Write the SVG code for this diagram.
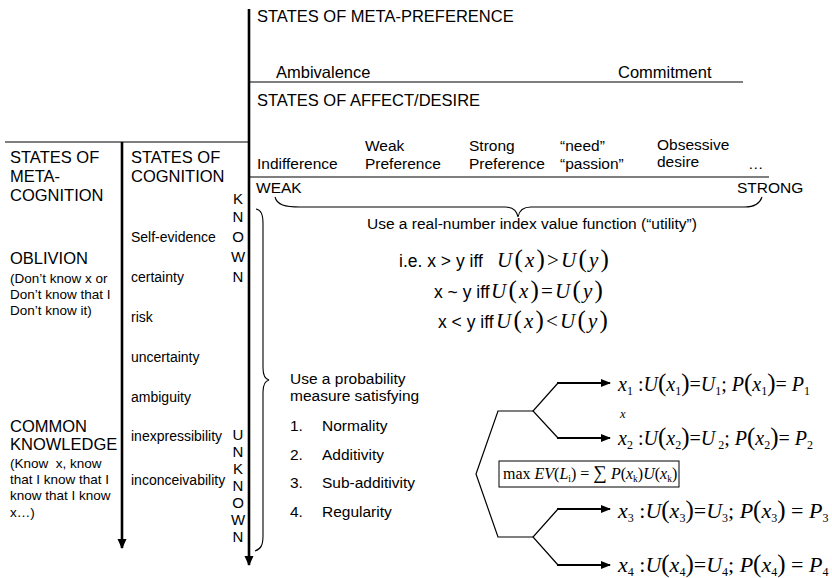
<svg xmlns="http://www.w3.org/2000/svg" width="832" height="578" viewBox="0 0 832 578">
  <style>
    text { font-family: "Liberation Sans", Arial, sans-serif; fill: #000; }
    .h { font-size: 16.5px; }
    .lbl { font-size: 15.5px; }
    .sm { font-size: 13.5px; }
    .cog { font-size: 14px; }
    .let { font-size: 15px; text-anchor: middle; }
    .big { font-size: 17.5px; }
    .serif { font-family: "Liberation Serif", "Times New Roman", serif; }
    .uf { font-size: 21px; letter-spacing: 2.2px; }
    .eq { font-size: 20px; }
    .eqb { font-size: 22px; }
    .ev { font-size: 16px; }
    .evs { font-size: 9.5px; }
    .tiny { font-size: 12.5px; }
    .i { font-style: italic; }
    .sub { font-size: 12px; }
    .par { font-size: 25px; }
    .thin { stroke: #000; stroke-width: 1.2; fill: none; }
    .axis { stroke: #000; stroke-width: 2.6; fill: none; }
    .br { stroke: #000; stroke-width: 1.1; fill: none; }
    .arr { stroke: #000; stroke-width: 2.2; fill: none; marker-end: url(#head); }
  </style>
  <defs>
    <marker id="head" viewBox="0 0 10 10" refX="9" refY="5" markerWidth="10" markerHeight="10" markerUnits="userSpaceOnUse" orient="auto">
      <path d="M0,1 L10,5 L0,9 Z" fill="#000"/>
    </marker>
    <marker id="vhead" viewBox="0 0 10 10" refX="9" refY="5" markerWidth="10" markerHeight="10" markerUnits="userSpaceOnUse" orient="auto">
      <path d="M0,0.5 L10,5 L0,9.5 Z" fill="#000"/>
    </marker>
  </defs>

  <!-- axes, rules and braces -->
  <g id="connectors">
    <line class="axis" x1="249" y1="9" x2="249" y2="565" marker-end="url(#vhead)"/>
    <line class="axis" x1="122" y1="142" x2="122" y2="548" marker-end="url(#vhead)"/>
    <line class="thin" x1="5" y1="142" x2="249" y2="142"/>
    <line class="thin" x1="249" y1="82" x2="743" y2="82"/>
    <line class="thin" x1="249" y1="177" x2="769" y2="177"/>
    <!-- brace under the weak-to-strong scale -->
    <path class="br" d="M275,197 C277,205 285,207 300,207 L505,207 C513,207 517,211 518,217 C519,211 523,207 531,207 L745,207 C755,207 760,203 762,197"/>
    <!-- brace beside the known/unknown column -->
    <path class="br" d="M256,209 C261,210 263,214 263,224 L263,368 C263,376 265,379 269,380 C265,381 263,384 263,392 L263,536 C263,545 261,549 255,551"/>
    <!-- lottery tree -->
    <polyline class="thin" points="533,411 498,411 476,474 498,537 533,537"/>
    <polyline class="thin" points="558,383 533,411 558,438"/>
    <polyline class="thin" points="558,509 533,537 558,565"/>
    <line class="arr" x1="557" y1="383" x2="610" y2="383"/>
    <line class="arr" x1="557" y1="438" x2="610" y2="438"/>
    <line class="arr" x1="557" y1="509" x2="610" y2="509"/>
    <line class="arr" x1="557" y1="565" x2="610" y2="565"/>
  </g>

  <g id="meta-preference">
    <text class="h" x="257" y="22">STATES OF META-PREFERENCE</text>
    <text class="h" x="276" y="78">Ambivalence</text>
    <text class="h" x="618" y="78">Commitment</text>
  </g>

  <g id="affect-desire">
    <text class="h" x="257" y="106">STATES OF AFFECT/DESIRE</text>
    <text class="lbl" x="257" y="169">Indifference</text>
    <text class="lbl" x="365" y="151">Weak</text>
    <text class="lbl" x="365" y="169">Preference</text>
    <text class="lbl" x="469" y="151">Strong</text>
    <text class="lbl" x="469" y="169">Preference</text>
    <text class="lbl" x="560" y="151">“need”</text>
    <text class="lbl" x="560" y="169">“passion”</text>
    <text class="lbl" x="657" y="150">Obsessive</text>
    <text class="lbl" x="657" y="167">desire</text>
    <text class="lbl" x="748" y="169" fill="#555">…</text>
    <text class="lbl" x="256" y="193">WEAK</text>
    <text class="lbl" x="737" y="193">STRONG</text>
  </g>

  <g id="meta-cognition">
    <text class="h" x="10" y="163">STATES OF</text>
    <text class="h" x="10" y="182">META-</text>
    <text class="h" x="10" y="201">COGNITION</text>
    <text class="h" x="10" y="264">OBLIVION</text>
    <text class="sm" x="10" y="283">(Don’t know x or</text>
    <text class="sm" x="10" y="299">Don’t know that I</text>
    <text class="sm" x="10" y="315">Don’t know it)</text>
    <text class="h" x="10" y="432">COMMON</text>
    <text class="h" x="10" y="450">KNOWLEDGE</text>
    <text class="sm" x="10" y="468">(Know&#160; x, know</text>
    <text class="sm" x="10" y="484">that I know that I</text>
    <text class="sm" x="10" y="500">know that I know</text>
    <text class="sm" x="10" y="517">x…)</text>
  </g>

  <g id="cognition">
    <text class="h" x="131" y="163">STATES OF</text>
    <text class="h" x="131" y="182">COGNITION</text>
    <text class="cog" x="131" y="242">Self-evidence</text>
    <text class="cog" x="131" y="282">certainty</text>
    <text class="cog" x="131" y="322">risk</text>
    <text class="cog" x="131" y="362">uncertainty</text>
    <text class="cog" x="131" y="402">ambiguity</text>
    <text class="cog" x="131" y="441">inexpressibility</text>
    <text class="cog" x="131" y="485">inconceivability</text>
  </g>

  <g id="known">
    <text class="let" x="238" y="204">K</text>
    <text class="let" x="238" y="222">N</text>
    <text class="let" x="238" y="242">O</text>
    <text class="let" x="238" y="262">W</text>
    <text class="let" x="238" y="282">N</text>
  </g>

  <g id="unknown">
    <text class="let" x="238" y="440">U</text>
    <text class="let" x="238" y="457">N</text>
    <text class="let" x="238" y="474">K</text>
    <text class="let" x="238" y="491">N</text>
    <text class="let" x="238" y="508">O</text>
    <text class="let" x="238" y="525">W</text>
    <text class="let" x="238" y="542">N</text>
  </g>

  <g id="utility">
    <text class="lbl" x="367" y="229">Use a real-number index value function (“utility”)</text>
    <text class="big" x="399" y="267">i.e. x &gt; y iff</text>
    <text class="serif uf" x="497" y="267"><tspan class="i">U</tspan><tspan class="par">(</tspan><tspan class="i">x</tspan><tspan class="par">)</tspan><tspan>&gt;</tspan><tspan class="i">U</tspan><tspan class="par">(</tspan><tspan class="i">y</tspan><tspan class="par">)</tspan></text>
    <text class="big" x="434" y="298">x ~ y iff</text>
    <text class="serif uf" x="491" y="298"><tspan class="i">U</tspan><tspan class="par">(</tspan><tspan class="i">x</tspan><tspan class="par">)</tspan><tspan>=</tspan><tspan class="i">U</tspan><tspan class="par">(</tspan><tspan class="i">y</tspan><tspan class="par">)</tspan></text>
    <text class="big" x="438" y="328">x &lt; y iff</text>
    <text class="serif uf" x="496" y="328"><tspan class="i">U</tspan><tspan class="par">(</tspan><tspan class="i">x</tspan><tspan class="par">)</tspan><tspan>&lt;</tspan><tspan class="i">U</tspan><tspan class="par">(</tspan><tspan class="i">y</tspan><tspan class="par">)</tspan></text>
  </g>

  <g id="probability">
    <text class="lbl" x="290" y="384">Use a probability</text>
    <text class="lbl" x="290" y="401">measure satisfying</text>
    <text class="lbl" x="290" y="431">1.</text><text class="lbl" x="322" y="431">Normality</text>
    <text class="lbl" x="290" y="460">2.</text><text class="lbl" x="322" y="460">Additivity</text>
    <text class="lbl" x="290" y="488">3.</text><text class="lbl" x="322" y="488">Sub-additivity</text>
    <text class="lbl" x="290" y="517">4.</text><text class="lbl" x="322" y="517">Regularity</text>
  </g>

  <g id="outcome-1">
    <text class="serif eq" x="618" y="391"><tspan class="i">x</tspan><tspan class="sub" dy="4">1</tspan><tspan dy="-4"> :</tspan><tspan class="i">U</tspan><tspan class="par">(</tspan><tspan class="i">x</tspan><tspan class="sub" dy="4">1</tspan><tspan class="par" dy="-4">)</tspan><tspan>=</tspan><tspan class="i">U</tspan><tspan class="sub" dy="4">1</tspan><tspan dy="-4">; </tspan><tspan class="i">P</tspan><tspan class="par">(</tspan><tspan class="i">x</tspan><tspan class="sub" dy="4">1</tspan><tspan class="par" dy="-4">)</tspan><tspan>= </tspan><tspan class="i">P</tspan><tspan class="sub" dy="4">1</tspan></text>
  </g>

  <g id="outcome-2">
    <text class="serif tiny i" x="620" y="418">x</text>
    <text class="serif eq" x="618" y="445"><tspan class="i">x</tspan><tspan class="sub" dy="4">2</tspan><tspan dy="-4"> :</tspan><tspan class="i">U</tspan><tspan class="par">(</tspan><tspan class="i">x</tspan><tspan class="sub" dy="4">2</tspan><tspan class="par" dy="-4">)</tspan><tspan>=</tspan><tspan class="i">U</tspan><tspan class="sub" dy="4"> 2</tspan><tspan dy="-4">; </tspan><tspan class="i">P</tspan><tspan class="par">(</tspan><tspan class="i">x</tspan><tspan class="sub" dy="4">2</tspan><tspan class="par" dy="-4">)</tspan><tspan>= </tspan><tspan class="i">P</tspan><tspan class="sub" dy="4">2</tspan></text>
  </g>

  <g id="expected-value">
    <rect x="499" y="461" width="180" height="26" fill="#fff" stroke="#000" stroke-width="1"/>
    <text class="serif ev" x="503" y="479"><tspan>max </tspan><tspan class="i">EV</tspan><tspan>(</tspan><tspan class="i">L</tspan><tspan class="evs" dy="3">i</tspan><tspan dy="-3">) = </tspan><tspan font-size="19">∑</tspan><tspan class="i"> P</tspan><tspan>(</tspan><tspan class="i">x</tspan><tspan class="evs" dy="3">k</tspan><tspan dy="-3">)</tspan><tspan class="i">U</tspan><tspan>(</tspan><tspan class="i">x</tspan><tspan class="evs" dy="3">k</tspan><tspan dy="-3">)</tspan></text>
  </g>

  <g id="outcome-3">
    <text class="serif eqb" x="618" y="518"><tspan class="i">x</tspan><tspan class="sub" dy="4">3</tspan><tspan dy="-4"> :</tspan><tspan class="i">U</tspan><tspan class="par">(</tspan><tspan class="i">x</tspan><tspan class="sub" dy="4">3</tspan><tspan class="par" dy="-4">)</tspan><tspan>=</tspan><tspan class="i">U</tspan><tspan class="sub" dy="4">3</tspan><tspan dy="-4">; </tspan><tspan class="i">P</tspan><tspan class="par">(</tspan><tspan class="i">x</tspan><tspan class="sub" dy="4">3</tspan><tspan class="par" dy="-4">)</tspan><tspan> = </tspan><tspan class="i">P</tspan><tspan class="sub" dy="4">3</tspan></text>
  </g>

  <g id="outcome-4">
    <text class="serif eqb" x="618" y="572"><tspan class="i">x</tspan><tspan class="sub" dy="4">4</tspan><tspan dy="-4"> :</tspan><tspan class="i">U</tspan><tspan class="par">(</tspan><tspan class="i">x</tspan><tspan class="sub" dy="4">4</tspan><tspan class="par" dy="-4">)</tspan><tspan>=</tspan><tspan class="i">U</tspan><tspan class="sub" dy="4">4</tspan><tspan dy="-4">; </tspan><tspan class="i">P</tspan><tspan class="par">(</tspan><tspan class="i">x</tspan><tspan class="sub" dy="4">4</tspan><tspan class="par" dy="-4">)</tspan><tspan> = </tspan><tspan class="i">P</tspan><tspan class="sub" dy="4">4</tspan></text>
  </g>
</svg>
